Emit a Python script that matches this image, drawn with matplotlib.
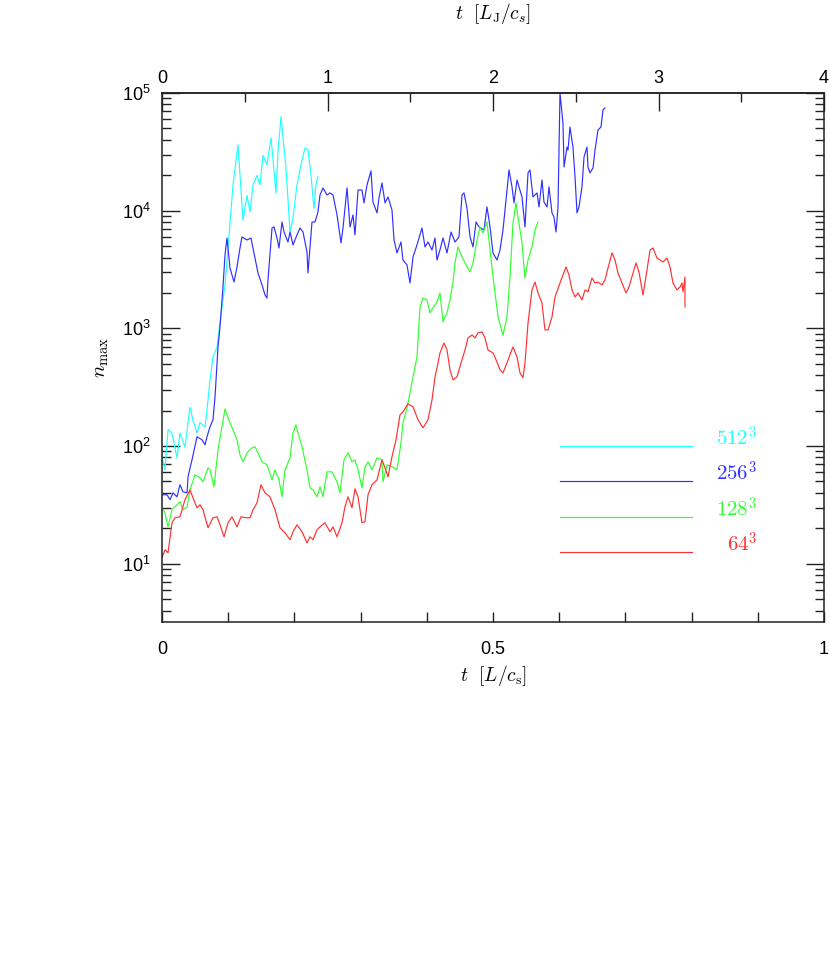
import numpy as np
import matplotlib
matplotlib.use("Agg")
import matplotlib.pyplot as plt
from matplotlib.ticker import FixedLocator, NullFormatter

plt.rcParams['font.family'] = ['Liberation Sans', 'DejaVu Sans']
plt.rcParams['mathtext.fontset'] = 'custom'
plt.rcParams['mathtext.rm'] = 'Liberation Sans'
plt.rcParams['mathtext.it'] = 'Liberation Sans:italic'

# ---------------- data (t in L/c_s, log10 of n_max) ----------------
t_512 = [0, .0045, .0091, .0151, .0227, .0272, .0347, .0423, .0468, .0529, .0574, .0650, .0695, .0725,
         .0770, .0831, .0876, .0921, .0952, .0997, .1073, .1148, .1224, .1284, .1329, .1375, .1435, .1480,
         .1526, .1586, .1647, .1722, .1752, .1798, .1828, .1873, .1934, .1979, .2039, .2115, .2160, .2205,
         .2251, .2296, .2326, .2356]
lg_512 = [1.91, 1.80, 2.14, 2.11, 1.90, 2.11, 1.99, 2.33, 2.22, 2.11, 2.20, 2.16, 2.39, 2.56,
          2.76, 2.84, 3.05, 3.24, 3.37, 3.68, 4.22, 4.56, 3.92, 4.13, 3.99, 4.22, 4.30, 4.22,
          4.47, 4.39, 4.62, 4.15, 4.50, 4.80, 4.62, 4.36, 3.82, 3.94, 4.22, 4.43, 4.53, 4.52,
          4.30, 4.02, 4.22, 4.29]

t_256 = [0, .0076, .0121, .0166, .0227, .0272, .0317, .0378, .0393, .0453, .0529, .0604, .0650, .0680,
         .0725, .0770, .0801, .0846, .0876, .0921, .0952, .0982, .1027, .1088, .1133, .1178, .1208, .1284,
         .1344, .1405, .1450, .1511, .1556, .1586, .1601, .1662, .1692, .1737, .1767, .1813, .1843, .1903,
         .1934, .1979, .2039, .2085, .2130, .2190, .2205, .2266, .2311, .2356, .2387, .2432, .2492, .2538,
         .2583, .2644, .2704, .2734, .2795, .2840, .2885, .2915, .2961, .3021, .3051, .3097, .3157, .3187,
         .3248, .3278, .3323, .3369, .3414, .3474, .3505, .3550, .3610, .3640, .3701, .3746, .3792, .3852,
         .3927, .3973, .4018, .4079, .4124, .4154, .4199, .4245, .4305, .4366, .4426, .4486, .4532, .4562,
         .4607, .4653, .4698, .4743, .4789, .4864, .4909, .4955, .5000, .5060, .5106, .5151, .5211, .5242,
         .5287, .5317, .5363, .5393, .5438, .5483, .5529, .5559, .5604, .5665, .5695, .5740, .5770, .5816,
         .5846, .5891, .5921, .5952, .5982, .6012, .6057, .6073, .6118, .6133, .6163, .6208, .6239, .6269,
         .6299, .6344, .6375, .6420, .6435, .6465, .6511, .6541, .6586, .6631, .6662, .6692]
lg_256 = [1.586, 1.586, 1.544, 1.603, 1.569, 1.671, 1.611, 1.603, 1.739, 1.883, 2.079, 2.053, 2.011, 2.079,
          2.163, 2.223, 2.418, 2.842, 3.012, 3.352, 3.624, 3.768, 3.513, 3.394, 3.522, 3.683, 3.777, 3.751,
          3.768, 3.598, 3.471, 3.369, 3.284, 3.258, 3.411, 3.853, 3.862, 3.768, 3.683, 3.904, 3.819, 3.734,
          3.819, 3.709, 3.794, 3.853, 3.819, 3.649, 3.471, 3.904, 3.904, 3.989, 4.134, 4.193, 4.134, 4.151,
          4.134, 3.964, 3.726, 3.853, 4.193, 3.862, 3.964, 3.794, 4.176, 4.176, 4.066, 4.219, 4.338, 4.074,
          3.981, 4.108, 4.236, 4.066, 4.117, 4.006, 3.751, 3.641, 3.734, 3.581, 3.539, 3.386, 3.607, 3.709,
          3.853, 3.692, 3.734, 3.666, 3.768, 3.581, 3.666, 3.768, 3.641, 3.819, 3.734, 3.777, 4.134, 4.151,
          4.023, 3.777, 3.692, 3.904, 3.862, 3.836, 4.032, 3.862, 3.641, 3.581, 3.666, 3.836, 4.176, 4.346,
          4.202, 4.066, 4.261, 4.202, 4.117, 3.862, 4.321, 4.346, 4.117, 4.151, 4.032, 4.261, 4.074, 4.032,
          4.202, 3.981, 3.947, 3.819, 4.032, 5.000, 4.745, 4.371, 4.541, 4.516, 4.711, 4.541, 4.287, 3.981,
          4.032, 4.202, 4.456, 4.541, 4.371, 4.321, 4.363, 4.516, 4.686, 4.711, 4.856, 4.873]

t_128 = [0, .0045, .0091, .0151, .0196, .0272, .0317, .0378, .0423, .0498, .0574, .0619, .0695, .0725,
         .0785, .0846, .0906, .0952, .0997, .1073, .1133, .1178, .1224, .1284, .1360, .1405, .1450, .1511,
         .1586, .1662, .1707, .1767, .1813, .1858, .1934, .1979, .2024, .2054, .2115, .2190, .2236, .2281,
         .2341, .2387, .2432, .2492, .2568, .2644, .2689, .2749, .2810, .2870, .2915, .2961, .3021, .3066,
         .3112, .3172, .3248, .3323, .3338, .3399, .3474, .3550, .3610, .3640, .3686, .3731, .3792, .3852,
         .3897, .3943, .4003, .4048, .4094, .4154, .4199, .4245, .4305, .4350, .4396, .4426, .4471, .4532,
         .4577, .4653, .4698, .4758, .4804, .4849, .4909, .4955, .5000, .5076, .5151, .5211, .5257, .5302,
         .5347, .5378, .5438, .5483, .5529, .5589, .5634, .5680]
lg_128 = [1.476, 1.433, 1.314, 1.459, 1.484, 1.527, 1.459, 1.484, 1.628, 1.756, 1.730, 1.696, 1.815, 1.798,
          1.654, 1.968, 2.163, 2.316, 2.240, 2.138, 2.053, 1.926, 1.866, 1.943, 1.985, 1.994, 1.943, 1.866,
          1.841, 1.713, 1.798, 1.713, 1.569, 1.798, 1.900, 2.112, 2.180, 2.112, 1.994, 1.798, 1.645, 1.628,
          1.569, 1.654, 1.569, 1.781, 1.781, 1.696, 1.603, 1.883, 1.943, 1.866, 1.883, 1.798, 1.645, 1.824,
          1.866, 1.798, 1.900, 1.883, 1.696, 1.841, 1.824, 1.798, 2.028, 2.197, 2.291, 2.410, 2.588, 2.757,
          3.182, 3.258, 3.242, 3.131, 3.174, 3.225, 3.301, 3.055, 3.131, 3.242, 3.394, 3.556, 3.692, 3.607,
          3.556, 3.480, 3.556, 3.751, 3.862, 3.811, 3.904, 3.666, 3.437, 3.097, 2.944, 3.097, 3.437, 3.896,
          4.066, 3.947, 3.726, 3.428, 3.581, 3.692, 3.836, 3.904]

t_64 = [0, .0045, .0091, .0151, .0196, .0272, .0347, .0423, .0468, .0529, .0574, .0619, .0695, .0770,
        .0831, .0876, .0937, .0997, .1057, .1133, .1193, .1269, .1329, .1375, .1435, .1495, .1556, .1631,
        .1707, .1782, .1858, .1934, .1979, .2039, .2115, .2190, .2236, .2281, .2341, .2387, .2462, .2538,
        .2583, .2644, .2719, .2764, .2810, .2870, .2915, .2961, .3021, .3066, .3112, .3172, .3248, .3323,
        .3369, .3414, .3474, .3535, .3595, .3640, .3716, .3792, .3867, .3943, .4018, .4079, .4124, .4154,
        .4199, .4260, .4305, .4350, .4396, .4456, .4517, .4577, .4622, .4683, .4728, .4773, .4834, .4879,
        .4924, .5000, .5060, .5106, .5151, .5211, .5272, .5302, .5363, .5408, .5453, .5483, .5529, .5589,
        .5634, .5680, .5740, .5785, .5831, .5891, .5937, .6012, .6057, .6103, .6148, .6193, .6239, .6284,
        .6344, .6390, .6435, .6495, .6541, .6586, .6647, .6692, .6737, .6798, .6843, .6888, .6949, .7009,
        .7054, .7115, .7160, .7205, .7266, .7326, .7372, .7417, .7477, .7523, .7568, .7628, .7674, .7719,
        .7779, .7825, .7855, .7870, .7900, .7900]
lg_64 = [1.051, 1.119, 1.093, 1.348, 1.391, 1.399, 1.544, 1.628, 1.561, 1.476, 1.501, 1.459, 1.306, 1.391,
         1.399, 1.331, 1.229, 1.348, 1.399, 1.314, 1.399, 1.391, 1.391, 1.459, 1.518, 1.671, 1.603, 1.569,
         1.459, 1.306, 1.263, 1.204, 1.272, 1.331, 1.272, 1.178, 1.229, 1.204, 1.289, 1.314, 1.348, 1.272,
         1.314, 1.229, 1.348, 1.484, 1.569, 1.476, 1.637, 1.569, 1.348, 1.357, 1.586, 1.671, 1.713, 1.883,
         1.815, 1.739, 1.909, 2.053, 2.265, 2.291, 2.359, 2.333, 2.223, 2.155, 2.223, 2.393, 2.588, 2.665,
         2.791, 2.876, 2.817, 2.648, 2.562, 2.588, 2.706, 2.817, 2.919, 2.944, 2.919, 2.961, 2.970, 2.919,
         2.817, 2.791, 2.715, 2.648, 2.621, 2.706, 2.800, 2.842, 2.757, 2.621, 2.580, 2.706, 3.046, 3.327,
         3.394, 3.301, 3.216, 2.987, 2.987, 3.097, 3.267, 3.386, 3.454, 3.522, 3.454, 3.327, 3.267, 3.301,
         3.242, 3.327, 3.310, 3.428, 3.386, 3.394, 3.369, 3.411, 3.513, 3.641, 3.581, 3.471, 3.386, 3.301,
         3.352, 3.471, 3.556, 3.480, 3.284, 3.496, 3.666, 3.683, 3.598, 3.581, 3.564, 3.598, 3.522, 3.386,
         3.327, 3.352, 3.386, 3.310, 3.437, 3.182]

series_labels = [r'$512^{3}$', r'$256^{3}$', r'$128^{3}$', r'$64^{3}$']
series_colors = ['#20ffff', '#3030ff', '#30ff30', '#ff3030']

ytick_vals = [10, 100, 1000, 10000, 100000]
ytick_labels = [r'$10^{1}$', r'$10^{2}$', r'$10^{3}$', r'$10^{4}$', r'$10^{5}$']
xtick_vals = [0, 0.5, 1]
xtick_labels = ['0', '0.5', '1']
top_vals = [0, 1, 2, 3, 4]
top_labels = ['0', '1', '2', '3', '4']

# ---------------- figure ----------------
fig = plt.figure(figsize=(8.30, 9.74), dpi=100)
ax = fig.add_axes([162/830, 1-622/974, 662/830, 529/974])

curves = [(t_512, lg_512), (t_256, lg_256), (t_128, lg_128), (t_64, lg_64)]
for (tt, lg), col in zip(curves, series_colors):
    ax.plot(tt, 10**np.array(lg), color=col, lw=0.85, solid_joinstyle='round')

ax.set_yscale('log')
ax.set_xlim(0, 1)
ax.set_ylim(3.2, 1e5)

for sp in ax.spines.values():
    sp.set_linewidth(1.1)
    sp.set_color('#222222')

# y ticks
ax.yaxis.set_major_locator(FixedLocator(ytick_vals))
ax.set_yticklabels(ytick_labels)
minors = [m * 10**e for e in range(0, 5) for m in range(2, 10)]
ax.yaxis.set_minor_locator(FixedLocator(minors))
ax.yaxis.set_minor_formatter(NullFormatter())
ax.tick_params(axis='y', which='both', direction='in', left=True, right=True, color='#222222', width=1.0)
ax.tick_params(axis='y', which='major', length=13, pad=8, labelsize=13)
ax.tick_params(axis='y', which='minor', length=6.5)

# bottom x ticks
ax.set_xticks(xtick_vals)
ax.set_xticklabels(xtick_labels)
ax.xaxis.set_minor_locator(FixedLocator(np.arange(0.1, 1.0, 0.1)))
ax.tick_params(axis='x', which='both', direction='in', bottom=True, top=False, length=7,
               color='#222222', width=1.0)
ax.tick_params(axis='x', which='major', pad=14, labelsize=13)

# top axis in units of L_J/c_s (factor 4)
sec = ax.secondary_xaxis('top', functions=(lambda x: 4 * x, lambda x: x / 4))
sec.set_xticks(top_vals)
sec.set_xticklabels(top_labels)
sec.xaxis.set_minor_locator(FixedLocator(np.arange(0.5, 4.0, 1.0)))
sec.tick_params(which='both', direction='in', color='#222222', width=1.0, labelsize=13)
sec.tick_params(which='major', length=13, pad=4)
sec.tick_params(which='minor', length=6.5, pad=4)
sec.spines['top'].set_linewidth(1.1)
sec.spines['top'].set_color('#222222')

# axis labels
ax.set_xlabel(r'$t\ \ [L/c_{\mathrm{s}}]$', fontsize=14, math_fontfamily='cm', labelpad=3)
fig.text(493/830, 1-14/974, r'$t\ \ [L_{\mathrm{J}}/c_{s}]$', fontsize=14, math_fontfamily='cm',
         ha='center', va='center')
ax.set_ylabel(r'$n_{\mathrm{max}}$', fontsize=15, math_fontfamily='cm', labelpad=8)

# legend (lines + labels)
leg_y = [446, 481, 517, 552]
for lab, col, py in zip(series_labels, series_colors, leg_y):
    ya = (622 - py) / 529
    ax.plot([(560-162)/662, (692-162)/662], [ya, ya], transform=ax.transAxes, color=col, lw=0.85)
    ax.text((757-162)/662, ya, lab, transform=ax.transAxes, color=col, fontsize=15,
            math_fontfamily='cm', ha='right', va='baseline')

fig.savefig('out.png', dpi=100)
